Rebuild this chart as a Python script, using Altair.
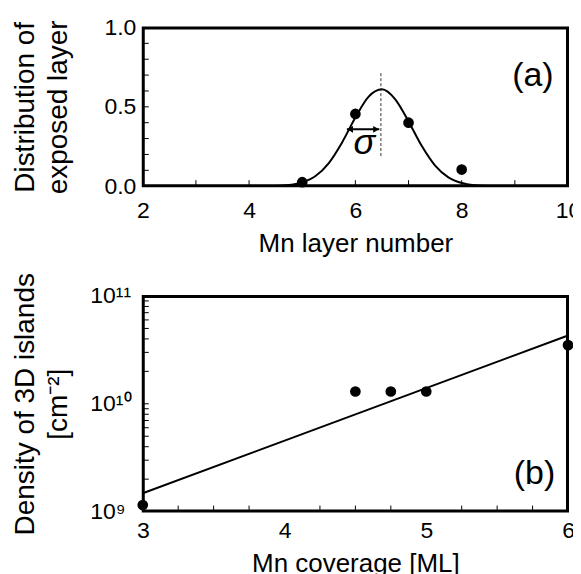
import altair as alt
import pandas as pd

FONT = "Liberation Sans"

# ---------------- Panel (a) data ----------------
a_layer = [5, 6, 7, 8]
a_dist = [0.025, 0.455, 0.40, 0.105]
a_curve_x = [4.25, 4.5, 4.75, 5.0, 5.25, 5.5, 5.75, 6.0, 6.25, 6.5,
             6.75, 7.0, 7.25, 7.5, 7.75, 8.0, 8.25, 8.5, 8.75]
a_curve_y = [0.0004, 0.0018, 0.0071, 0.0235, 0.064, 0.146, 0.276, 0.433, 0.564, 0.61,
             0.547, 0.408, 0.253, 0.130, 0.0555, 0.0197, 0.0058, 0.0014, 0.0003]
a_center = 6.48
a_center_span = [0.19, 0.725]
a_arrow_x = [5.84, 6.45]
a_arrow_y = 0.358
a_sigma_pos = (6.17, 0.20)
a_label_pos = (9.34, 0.63)
a_xdomain = [2, 10]
a_ydomain = [0, 1]
a_xticks = [3, 4, 5, 6, 7, 8, 9]
a_yticks = [0.1, 0.2, 0.3, 0.4, 0.5, 0.6, 0.7, 0.8, 0.9]
a_xlabels = [2, 4, 6, 8, 10]
a_ylabels = [0.0, 0.5, 1.0]

# ---------------- Panel (b) data ----------------
b_cov = [3.0, 4.5, 4.75, 5.0, 6.0]
b_dens = [1.15e9, 1.3e10, 1.3e10, 1.3e10, 3.5e10]
b_fit_x = [3.0, 6.0]
b_fit_y = [1.48e9, 4.3e10]
b_label_pos = (5.764, 1.8e9)
b_xdomain = [3, 6]
b_ydomain = [1e9, 1e11]
b_xticks = [3.25, 3.5, 3.75, 4.25, 4.5, 4.75, 5.25, 5.5, 5.75]
b_yticks = [2e9, 3e9, 4e9, 5e9, 6e9, 7e9, 8e9, 9e9,
            1e10, 2e10, 3e10, 4e10, 5e10, 6e10, 7e10, 8e10, 9e10]
b_xlabels = [3, 4, 5, 6]
b_ylabels = [1e9, 1e10, 1e11]

W1, H1 = 426, 159
W2, H2 = 426, 216
TICK = 5      # px, inward tick length
INSET = 1.0   # px, frame drawn just inside the plot edge
LAB = 23
XT = 26
YT = 28
FRAME = 2

common_axis = dict(ticks=False, domain=False, grid=False, labelFont=FONT, titleFont=FONT,
                   labelColor="black", titleColor="black", titleFontWeight="normal",
                   labelOverlap=False, labelFlush=False)


def px_to_x(xdom, W, px):
    return xdom[0] + (xdom[1] - xdom[0]) * px / W


def px_to_y(ydom, H, px, log_y=False):
    if log_y:
        return ydom[0] * (ydom[1] / ydom[0]) ** (px / H)
    return ydom[0] + (ydom[1] - ydom[0]) * px / H


def frame_layer(X, Y, xdom, ydom, W, H, log_y=False):
    x0, x1 = px_to_x(xdom, W, INSET), px_to_x(xdom, W, W - INSET)
    y0, y1 = px_to_y(ydom, H, INSET, log_y), px_to_y(ydom, H, H - INSET, log_y)
    box = pd.DataFrame({"x": [x0, x1, x1, x0, x0], "y": [y0, y0, y1, y1, y0], "o": [0, 1, 2, 3, 4]})
    return alt.Chart(box).mark_line(color="black", strokeWidth=FRAME, strokeJoin="miter").encode(
        x=X(), y=Y(), order="o:Q")


def tick_layers(X, Y, xdom, ydom, xt, yt, W, H, log_y=False):
    ys, ye = px_to_y(ydom, H, INSET, log_y), px_to_y(ydom, H, INSET + TICK, log_y)
    xs, xe = px_to_x(xdom, W, INSET), px_to_x(xdom, W, INSET + TICK)
    xtd = pd.DataFrame({"x": [float(v) for v in xt], "y": [ys] * len(xt), "y2": [ye] * len(xt)})
    ytd = pd.DataFrame({"x": [xs] * len(yt), "x2": [xe] * len(yt), "y": [float(v) for v in yt]})
    return [
        alt.Chart(xtd).mark_rule(color="black", strokeWidth=1).encode(x=X(), y=Y(), y2="y2:Q"),
        alt.Chart(ytd).mark_rule(color="black", strokeWidth=1).encode(x=X(), x2="x2:Q", y=Y()),
    ]


# ---------- panel (a) ----------
xs_a = alt.Scale(domain=a_xdomain, nice=False, zero=False)
ys_a = alt.Scale(domain=a_ydomain, nice=False)
ax_xa = alt.Axis(values=a_xlabels, title="Mn layer number", labelFontSize=LAB, labelPadding=13,
                 titleFontSize=XT, titlePadding=8, **common_axis)
ax_ya = alt.Axis(values=a_ylabels, format=".1f", title=["Distribution of", "exposed layer"],
                 labelFontSize=LAB, labelPadding=7, titleFontSize=YT, titlePadding=31,
                 titleLineHeight=33, **common_axis)


def XA(f="x"):
    return alt.X(f"{f}:Q", scale=xs_a, axis=ax_xa)


def YA(f="y"):
    return alt.Y(f"{f}:Q", scale=ys_a, axis=ax_ya)


pts_a = pd.DataFrame({"x": a_layer, "y": a_dist})
curve_a = pd.DataFrame({"x": a_curve_x, "y": a_curve_y})
center_a = pd.DataFrame({"x": [a_center], "y": [a_center_span[0]], "y2": [a_center_span[1]]})
arrow_a = pd.DataFrame({"x": [a_arrow_x[0]], "x2": [a_arrow_x[1]], "y": [a_arrow_y]})
heads_a = pd.DataFrame({"x": [a_arrow_x[0] + 0.06, a_arrow_x[1] - 0.06], "y": [a_arrow_y, a_arrow_y],
                        "s": ["triangle-left", "triangle-right"]})
sigma_a = pd.DataFrame({"x": [a_sigma_pos[0]], "y": [a_sigma_pos[1]], "t": ["σ"]})
lab_a = pd.DataFrame({"x": [a_label_pos[0]], "y": [a_label_pos[1]], "t": ["(a)"]})

pa = alt.layer(
    *tick_layers(XA, YA, a_xdomain, a_ydomain, a_xticks, a_yticks, W1, H1),
    alt.Chart(curve_a).mark_line(color="black", strokeWidth=2, interpolate="monotone", clip=True).encode(
        x=XA(), y=YA()),
    alt.Chart(center_a).mark_rule(color="#333333", strokeWidth=1, strokeDash=[3, 2]).encode(
        x=XA(), y=YA(), y2="y2:Q"),
    alt.Chart(arrow_a).mark_rule(color="black", strokeWidth=2).encode(
        x=XA(), x2="x2:Q", y=YA()),
    alt.Chart(heads_a).mark_point(filled=True, color="black", size=45, opacity=1).encode(
        x=XA(), y=YA(), shape=alt.Shape("s:N", scale=None)),
    alt.Chart(sigma_a).mark_text(font=FONT, fontSize=36, fontStyle="italic", baseline="alphabetic",
                                 align="center", color="black").encode(x=XA(), y=YA(), text="t:N"),
    alt.Chart(lab_a).mark_text(font=FONT, fontSize=34, baseline="alphabetic",
                               align="center", color="black").encode(x=XA(), y=YA(), text="t:N"),
    frame_layer(XA, YA, a_xdomain, a_ydomain, W1, H1),
    alt.Chart(pts_a).mark_circle(color="black", size=115, opacity=1).encode(x=XA(), y=YA()),
).properties(width=W1, height=H1)

# ---------- panel (b) ----------
xs_b = alt.Scale(domain=b_xdomain, nice=False, zero=False)
ys_b = alt.Scale(type="log", domain=b_ydomain, nice=False)
ax_xb = alt.Axis(values=b_xlabels, format="d", title="Mn coverage [ML]", labelFontSize=LAB,
                 labelPadding=8, titleFontSize=XT, titlePadding=8, **common_axis)
ax_yb = alt.Axis(values=b_ylabels, title=["Density of 3D islands", "[cm⁻²]"],
                 labelExpr="datum.value < 5e9 ? '10⁹' : (datum.value < 5e10 ? '10¹⁰' : '10¹¹')",
                 labelAlign="left", labelFontSize=LAB, labelPadding=53, titleFontSize=YT,
                 titlePadding=17, titleLineHeight=33, **common_axis)


def XB(f="x"):
    return alt.X(f"{f}:Q", scale=xs_b, axis=ax_xb)


def YB(f="y"):
    return alt.Y(f"{f}:Q", scale=ys_b, axis=ax_yb)


pts_b = pd.DataFrame({"x": b_cov, "y": b_dens})
fit_b = pd.DataFrame({"x": b_fit_x, "y": b_fit_y})
lab_b = pd.DataFrame({"x": [b_label_pos[0]], "y": [b_label_pos[1]], "t": ["(b)"]})

pb = alt.layer(
    *tick_layers(XB, YB, b_xdomain, b_ydomain, b_xticks, b_yticks, W2, H2, log_y=True),
    alt.Chart(fit_b).mark_line(color="black", strokeWidth=2).encode(x=XB(), y=YB()),
    alt.Chart(lab_b).mark_text(font=FONT, fontSize=34, baseline="alphabetic",
                               align="center", color="black").encode(x=XB(), y=YB(), text="t:N"),
    frame_layer(XB, YB, b_xdomain, b_ydomain, W2, H2, log_y=True),
    alt.Chart(pts_b).mark_circle(color="black", size=115, opacity=1).encode(x=XB(), y=YB()),
).properties(width=W2, height=H2)

chart = alt.vconcat(pa, pb, spacing=14).properties(
    padding={"left": 3, "top": 7, "right": -9, "bottom": 0}
).configure(font=FONT, background="white").configure_view(stroke="black", strokeWidth=2)

chart.save("out.html", embed_options={"renderer": "svg", "actions": False})
